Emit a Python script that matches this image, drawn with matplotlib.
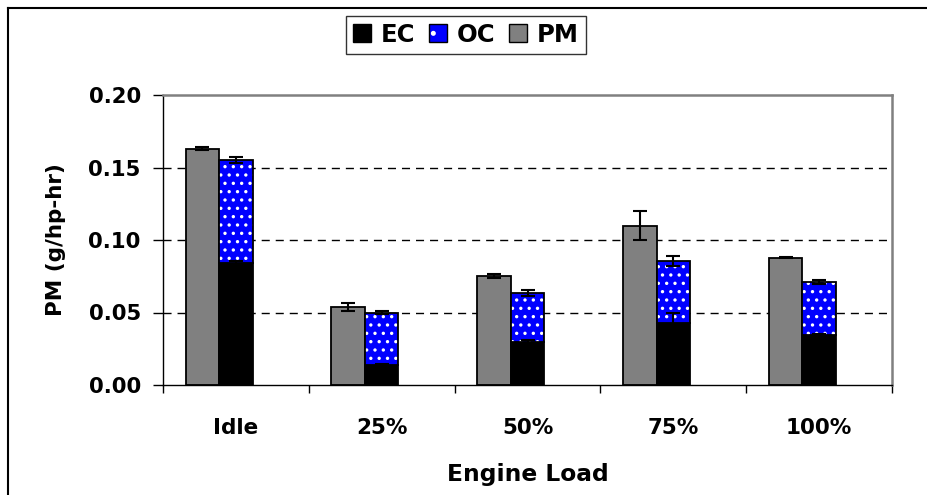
import matplotlib
matplotlib.use("Agg")
import matplotlib.pyplot as plt
import numpy as np
from matplotlib.patches import Patch, Rectangle
from matplotlib.lines import Line2D
from matplotlib.legend_handler import HandlerPatch

plt.rcParams['font.family'] = ['DejaVu Sans']
plt.rcParams['font.weight'] = 'bold'
plt.rcParams['hatch.linewidth'] = 1.2

categories = ['Idle', '25%', '50%', '75%', '100%']
pm = [0.163, 0.0538, 0.075, 0.110, 0.0878]
pm_err = [0.0008, 0.0025, 0.0015, 0.0097, 0.0003]
ec = [0.084, 0.0138, 0.030, 0.0427, 0.0343]
ec_err = [0.0015, 0.0005, 0.0012, 0.007, 0.0012]
total = [0.155, 0.0500, 0.0635, 0.0853, 0.0708]
total_err = [0.0020, 0.0008, 0.0020, 0.0035, 0.0013]
oc = [t - e for t, e in zip(total, ec)]

fig = plt.figure(figsize=(9.28, 4.95), dpi=100)
ax = fig.add_axes([163/928, 1-385/495, (892-163)/928, (385-95)/495])

x = np.arange(len(categories))
w = 0.23

for yv in [0.05, 0.10, 0.15]:
    ax.axhline(yv, color='black', lw=1.0, dashes=(5.8, 4.3), zorder=0.5)

ax.bar(x - w, pm, w, color='#808080', edgecolor='black', linewidth=1.3, zorder=2)
ax.bar(x, ec, w, color='black', edgecolor='black', linewidth=1.3, zorder=2)
ax.bar(x, oc, w, bottom=ec, color='#0000FF', edgecolor='white', linewidth=0, hatch='..', zorder=2)
ax.bar(x, oc, w, bottom=ec, color='none', edgecolor='black', linewidth=1.3, zorder=2.1)

ekw = dict(fmt='none', ecolor='black', elinewidth=1.5, capsize=5, capthick=1.5, zorder=3)
ax.errorbar(x - w, pm, yerr=pm_err, **ekw)
ax.errorbar(x, ec, yerr=ec_err, **ekw)
ax.errorbar(x, total, yerr=total_err, **ekw)

ax.set_xlim(-0.5, len(categories) - 0.5)
ax.set_ylim(0, 0.20)
ax.set_yticks([0, 0.05, 0.10, 0.15, 0.20])
ax.set_yticklabels(['0.00', '0.05', '0.10', '0.15', '0.20'], fontsize=15.3, fontweight='bold')
ax.set_xticks(x)
ax.set_xticklabels(categories, fontsize=15.5, fontweight='bold')
ax.tick_params(axis='x', which='major', length=0, pad=24)
ax.set_xticks(np.arange(-0.5, len(categories) + 0.5, 1), minor=True)
ax.tick_params(axis='x', which='minor', length=6, direction='out', width=1, color='black')
ax.tick_params(axis='y', length=7, direction='out', width=1, pad=9)

for s in ['left', 'bottom']:
    ax.spines[s].set_color('black')
    ax.spines[s].set_linewidth(1.0)
for s in ['top', 'right']:
    ax.spines[s].set_color('#808080')
    ax.spines[s].set_linewidth(1.8)

ax.set_xlabel('Engine Load', fontsize=16.8, fontweight='bold', labelpad=18)
ax.set_ylabel('PM (g/hp-hr)', fontsize=15.5, fontweight='bold', labelpad=16)

class SquareHandler(HandlerPatch):
    def create_artists(self, legend, orig_handle, xdescent, ydescent, width, height, fontsize, trans):
        s = height
        x0 = xdescent + (width - s) / 2
        y0 = ydescent + (height - s) / 2
        arts = []
        if orig_handle.get_hatch():
            arts.append(Rectangle((x0, y0), s, s, facecolor=orig_handle.get_facecolor(),
                                  edgecolor='white', hatch=orig_handle.get_hatch(),
                                  linewidth=0, transform=trans))
            arts.append(Rectangle((x0, y0), s, s, facecolor='none', edgecolor='black',
                                  linewidth=1.0, transform=trans))
        else:
            arts.append(Rectangle((x0, y0), s, s, facecolor=orig_handle.get_facecolor(),
                                  edgecolor='black', linewidth=1.0, transform=trans))
        return arts

handles = [Patch(facecolor='black', edgecolor='black', label='EC'),
           Patch(facecolor='#0000FF', edgecolor='black', hatch='.', label='OC'),
           Patch(facecolor='#808080', edgecolor='black', label='PM')]
leg = fig.legend(handles=handles, loc='center', bbox_to_anchor=(466/928, 1-35/495), ncol=3,
                 frameon=True, fancybox=False, edgecolor='black',
                 prop={'weight': 'bold', 'size': 17.5},
                 handlelength=0.75, handleheight=0.75, handletextpad=0.4, columnspacing=0.55,
                 borderpad=0.3, handler_map={Patch: SquareHandler()})
leg.get_frame().set_linewidth(1.0)

fig.add_artist(Line2D([8/928, 8/928], [1-8/495, 0], color='black', lw=1.5, transform=fig.transFigure))
fig.add_artist(Line2D([8/928, 1], [1-8/495, 1-8/495], color='black', lw=1.5, transform=fig.transFigure))

fig.savefig('out.png', dpi=100)
